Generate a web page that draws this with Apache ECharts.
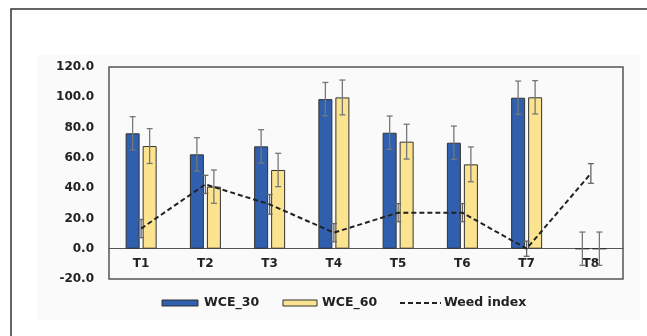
<!DOCTYPE html>
<html><head><meta charset="utf-8">
<script src="https://cdn.jsdelivr.net/npm/echarts@6/dist/echarts.min.js"></script>
<style>html,body{margin:0;padding:0;background:#fff}#c{width:647px;height:336px}</style>
</head><body><div id="c"></div>
<script>
const categories = ['T1','T2','T3','T4','T5','T6','T7','T8'];
const wce30 = [76.2, 62.3, 67.6, 98.8, 76.6, 70.0, 99.7, 0];
const wce30Err = [11, 11, 11, 11, 11, 11, 11, 11];
const wce60 = [67.8, 41.0, 52.0, 99.9, 70.7, 55.7, 100, 0];
const wce60Err = [11.5, 11, 11, 11.5, 11.5, 11.5, 11, 11];
const weedIndex = [13.3, 42.5, 29.3, 10.6, 23.8, 23.8, 0, 49.7];
const weedErr = [6, 6, 6.5, 6, 6, 6, 5, 6.5];
const yTicks = {min: -20, max: 120, interval: 20};
const seriesNames = ['WCE_30', 'WCE_60', 'Weed index'];

const FONT = 'DejaVu Sans';
const BAR_W = 14, BAR_GAP = 3;
const BLUE = '#2F5FAD', YELLOW = '#FBE38F';
function errSeries(vals, errs, offset, color) {
  return {
    type: 'custom', silent: true, z: 5,
    data: vals.map((v, i) => [i, v, errs[i]]),
    renderItem: function (params, api) {
      const i = api.value(0), v = api.value(1), e = api.value(2);
      const top = api.coord([i, v + e]);
      const bot = api.coord([i, v - e]);
      const x = top[0] + offset;
      const cap = 3;
      const st = {stroke: color, lineWidth: 1.3};
      return {type: 'group', children: [
        {type: 'line', shape: {x1: x, y1: top[1], x2: x, y2: bot[1]}, style: st},
        {type: 'line', shape: {x1: x - cap, y1: top[1], x2: x + cap, y2: top[1]}, style: st},
        {type: 'line', shape: {x1: x - cap, y1: bot[1], x2: x + cap, y2: bot[1]}, style: st}
      ]};
    }
  };
}
const off = (BAR_W + BAR_GAP) / 2;
const LY = 303;
const legendText = (x, t) => ({type: 'text', x: x, y: LY, style: {text: t, fontFamily: FONT, fontWeight: 'bold', fontSize: 12.5, fill: '#222', textVerticalAlign: 'middle', verticalAlign: 'middle'}});
const chart = echarts.init(document.getElementById('c'), null, {renderer: 'canvas'});
chart.setOption({
  animation: false,
  backgroundColor: '#fff',
  graphic: [
    {type: 'rect', z: -10, shape: {x: 37, y: 55, width: 603, height: 265}, style: {fill: '#fafafa'}},
    {type: 'rect', z: 100, shape: {x: 11, y: 9, width: 700, height: 400}, style: {fill: 'none', stroke: '#333', lineWidth: 1.5}},
    {type: 'rect', shape: {x: 162, y: LY - 3, width: 36, height: 6}, style: {fill: BLUE, stroke: '#333', lineWidth: 1}},
    legendText(204, seriesNames[0]),
    {type: 'rect', shape: {x: 283, y: LY - 3, width: 34, height: 6}, style: {fill: YELLOW, stroke: '#333', lineWidth: 1}},
    legendText(322, seriesNames[1]),
    {type: 'line', shape: {x1: 400, y1: LY, x2: 441, y2: LY}, style: {stroke: '#222', lineWidth: 2, lineDash: [5, 3]}},
    legendText(444, seriesNames[2])
  ],
  grid: {left: 109, top: 67, right: 24, bottom: 57, show: true, borderColor: '#555', borderWidth: 1.5, backgroundColor: 'transparent'},
  legend: {show: false},
  xAxis: {
    type: 'category', data: categories,
    axisLine: {onZero: true, lineStyle: {color: '#555', width: 1.2}},
    axisTick: {show: false},
    axisLabel: {fontFamily: FONT, fontWeight: 'bold', fontSize: 12, color: '#222', margin: -21},
    splitLine: {show: false}
  },
  yAxis: {
    type: 'value', min: yTicks.min, max: yTicks.max, interval: yTicks.interval,
    axisLine: {show: false}, axisTick: {show: false}, splitLine: {show: false},
    axisLabel: {fontFamily: FONT, fontWeight: 'bold', fontSize: 12, color: '#222', margin: 15,
      formatter: v => v.toFixed(1)}
  },
  series: [
    {name: seriesNames[0], type: 'bar', data: wce30, barWidth: BAR_W, barGap: (BAR_GAP / BAR_W * 100) + '%',
      itemStyle: {color: BLUE, borderColor: '#333', borderWidth: 1}},
    {name: seriesNames[1], type: 'bar', data: wce60, barWidth: BAR_W,
      itemStyle: {color: YELLOW, borderColor: '#333', borderWidth: 1}},
    errSeries(wce30, wce30Err, -off, '#777'),
    errSeries(wce60, wce60Err, off, '#777'),
    {name: seriesNames[2], type: 'line', data: weedIndex, symbol: 'none', z: 6,
      itemStyle: {color: '#222'},
      lineStyle: {color: '#222', width: 2, type: [5, 3]}},
    errSeries(weedIndex, weedErr, 0, '#666')
  ]
});
</script></body></html>
